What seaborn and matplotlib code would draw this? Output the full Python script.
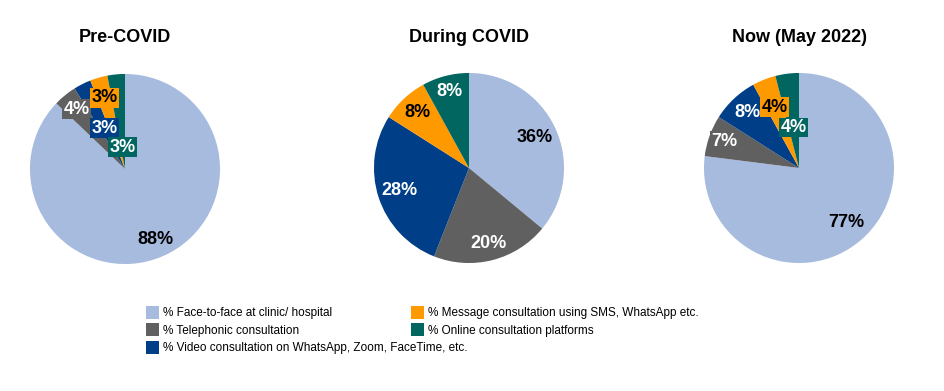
import numpy as np
import matplotlib
matplotlib.use('Agg')
import matplotlib.pyplot as plt
import seaborn as sns

# data
categories = ['% Face-to-face at clinic/ hospital',
              '% Telephonic consultation',
              '% Video consultation on WhatsApp, Zoom, FaceTime, etc.',
              '% Message consultation using SMS, WhatsApp etc.',
              '% Online consultation platforms']
titles = ['Pre-COVID', 'During COVID', 'Now (May 2022)']
pre_covid = [88, 4, 3, 3, 3]
during_covid = [36, 20, 28, 8, 8]
now_may2022 = [77, 7, 8, 4, 4]

colors = ['#A7BBDF', '#606060', '#003F87', '#FF9900', '#00665F']
text_colors = ['black', 'white', 'white', 'black', 'white']
# radial position of each label (fraction of radius), as placed in the original
label_dist = [[0.81, 0.81, 0.48, 0.78, 0.23],
              [0.76, 0.82, 0.77, 0.80, 0.83],
              [0.76, 0.83, 0.80, 0.69, 0.43]]

sns.set_theme(style='white')
plt.rcParams['font.family'] = ['Liberation Sans', 'DejaVu Sans']
plt.rcParams['text.color'] = 'black'

W, H = 944, 391
fig = plt.figure(figsize=(W / 100, H / 100), dpi=100)
centers = [(125, 169), (469, 168), (799, 168)]
half = 105

first_wedges = None
for k, vals in enumerate([pre_covid, during_covid, now_may2022]):
    cx, cy = centers[k]
    ax = fig.add_axes([(cx - half) / W, (H - cy - half) / H, 2 * half / W, 2 * half / H])
    wedges, _ = ax.pie(vals, colors=colors, startangle=90, counterclock=False,
                       radius=1, wedgeprops=dict(linewidth=0))
    ax.set_xlim(-1.105, 1.105)
    ax.set_ylim(-1.105, 1.105)
    if first_wedges is None:
        first_wedges = wedges
    for i, (w, v) in enumerate(zip(wedges, vals)):
        ang = np.deg2rad((w.theta1 + w.theta2) / 2)
        d = label_dist[k][i]
        box = None
        if i > 0:
            box = dict(boxstyle='square,pad=0.08', fc=colors[i], ec='none')
        ax.text(d * np.cos(ang), d * np.sin(ang), f'{v}%', ha='center', va='center',
                fontsize=13, fontweight='bold', color=text_colors[i], bbox=box)
    fig.text(cx / W, 1 - 38 / H, titles[k], ha='center', va='center',
             fontsize=13, fontweight='bold', color='black')

# legend in two columns, second column placed where the original has it
leg_kw = dict(loc='upper left', frameon=False, fontsize=8.5,
              handlelength=1.1, handleheight=1.3, handletextpad=0.4,
              labelspacing=0.35, borderaxespad=0)
fig.legend(first_wedges[:3], categories[:3],
           bbox_to_anchor=(141 / W, 1 - 301 / H), **leg_kw)
fig.legend(first_wedges[3:], categories[3:],
           bbox_to_anchor=(406 / W, 1 - 301 / H), **leg_kw)

fig.savefig('out.png', dpi=100, facecolor='white')
